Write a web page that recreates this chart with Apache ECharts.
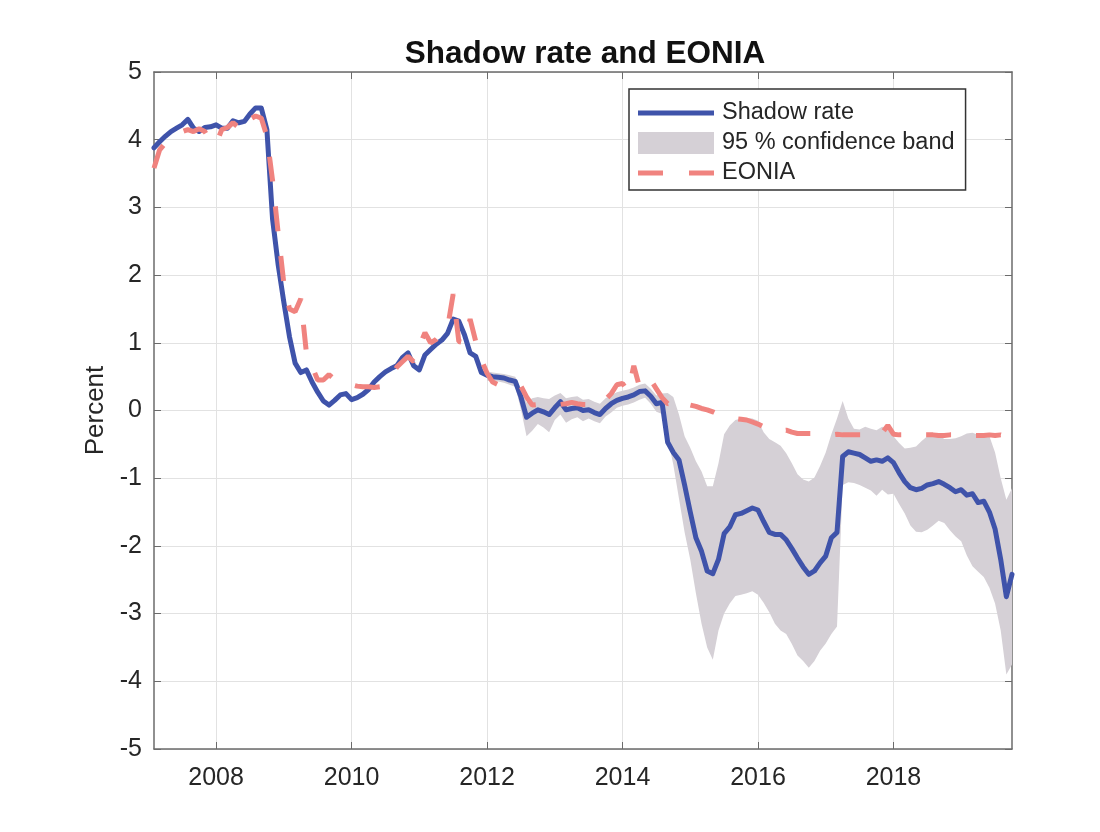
<!DOCTYPE html>
<html>
<head>
<meta charset="utf-8">
<title>Shadow rate and EONIA</title>
<script src="https://cdn.jsdelivr.net/npm/echarts@6.0.0/dist/echarts.min.js"></script>
<style>
  html, body { margin: 0; padding: 0; background: #ffffff; }
  #chart { width: 1100px; height: 832px; }
</style>
</head>
<body>
<div id="chart"></div>
<script>
// monthly data, Feb 2007 .. Oct 2019
const startYear = 2007;
const startMonth = 2;

const shadowRate = [
  3.88, 3.97, 4.05, 4.12, 4.17, 4.22, 4.30, 4.17, 4.12, 4.18, 4.19,              // 2007
  4.22, 4.17, 4.17, 4.28, 4.25, 4.27, 4.38, 4.47, 4.47, 4.15, 2.83, 2.15,        // 2008
  1.60, 1.09, 0.70, 0.56, 0.60, 0.42, 0.27, 0.14, 0.08, 0.15, 0.23, 0.25,        // 2009
  0.16, 0.19, 0.24, 0.31, 0.42, 0.50, 0.57, 0.62, 0.66, 0.78, 0.85, 0.66,        // 2010
  0.60, 0.82, 0.90, 0.98, 1.04, 1.14, 1.35, 1.32, 1.12, 0.85, 0.80, 0.56,        // 2011
  0.52, 0.50, 0.49, 0.48, 0.45, 0.43, 0.20, -0.10, -0.04, 0.01, -0.02, -0.06,    // 2012
  0.04, 0.13, 0.01, 0.03, 0.04, 0.00, 0.01, -0.03, -0.06, 0.03, 0.10, 0.15,      // 2013
  0.18, 0.20, 0.23, 0.28, 0.29, 0.21, 0.10, 0.12, -0.47, -0.62, -0.73, -1.10,    // 2014
  -1.50, -1.88, -2.08, -2.37, -2.41, -2.20, -1.82, -1.72, -1.54, -1.52, -1.48, -1.44, // 2015
  -1.47, -1.64, -1.80, -1.83, -1.83, -1.91, -2.04, -2.18, -2.31, -2.42, -2.37, -2.25, // 2016
  -2.15, -1.88, -1.80, -0.68, -0.61, -0.63, -0.65, -0.70, -0.75, -0.73, -0.75, -0.70, // 2017
  -0.77, -0.92, -1.05, -1.14, -1.17, -1.15, -1.10, -1.08, -1.05, -1.09, -1.14, -1.20, // 2018
  -1.17, -1.25, -1.23, -1.36, -1.34, -1.50, -1.75, -2.20, -2.75, -2.42              // 2019
];

const eonia = [
  3.58, 3.85, 3.95, 4.02, 4.08, 4.12, 4.15, 4.12, 4.16, 4.12, 3.98,              // 2007
  3.93, 4.15, 4.18, 4.25, 4.18, 4.12, 4.30, 4.35, 4.32, 4.05, 3.40, 2.62,        // 2008
  1.88, 1.50, 1.46, 1.65, 0.85, 0.65, 0.45, 0.45, 0.53, 0.46, 0.42, 0.41,        // 2009
  0.38, 0.36, 0.35, 0.35, 0.34, 0.35, 0.40, 0.50, 0.64, 0.72, 0.80, 0.72,        // 2010
  0.95, 1.15, 1.00, 1.05, 1.15, 1.22, 1.72, 1.02, 1.00, 1.35, 1.02, 0.75,        // 2011
  0.55, 0.42, 0.38, 0.36, 0.35, 0.37, 0.36, 0.20, 0.08, 0.09, 0.08, 0.08,        // 2012
  0.08, 0.09, 0.10, 0.12, 0.10, 0.09, 0.09, 0.08, 0.09, 0.16, 0.25, 0.38,        // 2013
  0.40, 0.28, 0.66, 0.35, 0.33, 0.45, 0.32, 0.19, 0.10, 0.12, 0.17, 0.12,        // 2014
  0.08, 0.06, 0.03, 0.01, -0.02, -0.06, -0.09, -0.11, -0.12, -0.13, -0.14, -0.17, // 2015
  -0.20, -0.24, -0.27, -0.31, -0.30, -0.29, -0.32, -0.34, -0.34, -0.34, -0.34, -0.34, // 2016
  -0.35, -0.36, -0.35, -0.36, -0.36, -0.36, -0.36, -0.36, -0.36, -0.36, -0.33, -0.22, // 2017
  -0.35, -0.36, -0.36, -0.37, -0.36, -0.36, -0.36, -0.36, -0.37, -0.37, -0.36, -0.36, // 2018
  -0.37, -0.37, -0.37, -0.37, -0.37, -0.36, -0.37, -0.36, -0.38, -0.37              // 2019
];

// 95 % band, Jan 2012 .. Oct 2019
const bandStartYear = 2012;
const bandLower = [
  0.44, 0.43, 0.43, 0.41, 0.38, 0.35, 0.02, -0.38, -0.30, -0.20, -0.25, -0.32,   // 2012
  -0.14, -0.06, -0.18, -0.13, -0.10, -0.16, -0.12, -0.16, -0.19, -0.09, -0.03, 0.04, // 2013
  0.07, 0.09, 0.12, 0.16, 0.19, 0.10, -0.02, -0.05, -0.40, -0.80, -1.30, -1.80,  // 2014
  -2.20, -2.70, -3.15, -3.50, -3.68, -3.25, -3.00, -2.85, -2.74, -2.72, -2.70, -2.67, // 2015
  -2.72, -2.84, -2.98, -3.15, -3.25, -3.30, -3.45, -3.62, -3.70, -3.80, -3.70, -3.55, // 2016
  -3.44, -3.30, -3.19, -1.10, -1.06, -1.07, -1.10, -1.14, -1.18, -1.26, -1.17, -1.24, // 2017
  -1.23, -1.38, -1.52, -1.70, -1.79, -1.80, -1.76, -1.70, -1.63, -1.66, -1.77, -1.86, // 2018
  -1.93, -2.14, -2.30, -2.38, -2.46, -2.62, -2.85, -3.25, -3.90, -3.75           // 2019
];
const bandUpper = [
  0.58, 0.56, 0.55, 0.54, 0.52, 0.50, 0.32, 0.12, 0.18, 0.20, 0.18, 0.17,       // 2012
  0.22, 0.26, 0.18, 0.20, 0.21, 0.16, 0.17, 0.13, 0.10, 0.18, 0.23, 0.27,       // 2013
  0.29, 0.31, 0.34, 0.38, 0.40, 0.32, 0.22, 0.25, 0.26, 0.20, -0.06, -0.38,     // 2014
  -0.55, -0.75, -0.90, -1.12, -1.12, -0.78, -0.35, -0.22, -0.14, -0.12, -0.11, -0.12, // 2015
  -0.15, -0.32, -0.42, -0.47, -0.52, -0.63, -0.78, -0.94, -1.02, -1.05, -0.99, -0.82, // 2016
  -0.62, -0.35, -0.12, 0.14, -0.12, -0.27, -0.28, -0.24, -0.27, -0.29, -0.24, -0.28,  // 2017
  -0.38, -0.48, -0.56, -0.55, -0.53, -0.45, -0.38, -0.36, -0.36, -0.42, -0.42, -0.41, // 2018
  -0.38, -0.34, -0.33, -0.36, -0.38, -0.38, -0.62, -1.00, -1.32, -1.15          // 2019
];

const yearTicks = [2008, 2010, 2012, 2014, 2016, 2018];

const months = shadowRate.map((v, i) => startYear + (startMonth - 1 + i) / 12);
const bandMonths = bandLower.map((v, i) => bandStartYear + i / 12);

const font = "'Liberation Sans', Arial, Helvetica, sans-serif";
const textColor = '#262626';
const boxColor = '#6b6b6b';
const bandColor = '#d5d0d6';

// band drawn as one polygon: upper edge left to right, lower edge back
function renderBand(params, api) {
  if (params.dataIndex !== 0) return null;
  const pts = [];
  bandMonths.forEach((x, i) => pts.push(api.coord([x, bandUpper[i]])));
  for (let i = bandMonths.length - 1; i >= 0; i--) {
    pts.push(api.coord([bandMonths[i], bandLower[i]]));
  }
  return {
    type: 'polygon',
    shape: { points: pts },
    style: { fill: bandColor }
  };
}

const chart = echarts.init(document.getElementById('chart'));

const option = {
  backgroundColor: '#ffffff',
  animation: false,
  title: {
    text: 'Shadow rate and EONIA',
    left: 580,
    top: 33,
    textAlign: 'center',
    textStyle: { fontFamily: font, fontSize: 31.5, fontWeight: 'bold', color: '#111' }
  },
  legend: {
    orient: 'vertical',
    left: 629,
    top: 89,
    padding: [12, 11, 5, 9],
    itemWidth: 76,
    itemHeight: 22,
    itemGap: 6,
    selectedMode: false,
    backgroundColor: '#ffffff',
    borderColor: '#333333',
    borderWidth: 1.5,
    borderRadius: 0,
    textStyle: { fontFamily: font, fontSize: 23.5, color: textColor, padding: [0, 0, 0, 3] },
    data: [
      { name: 'Shadow rate', icon: 'path://M0,0H76V5H0Z' },
      { name: '95 % confidence band', icon: 'rect', itemStyle: { color: bandColor } },
      { name: 'EONIA', icon: 'path://M0,0H25V5H0ZM51,0H76V5H51Z' }
    ]
  },
  grid: {
    left: 154, right: 88, top: 72, bottom: 83,
    outerBoundsMode: 'none'
  },
  xAxis: [
    {
      type: 'value',
      min: 2007 + 1 / 12,
      max: 2019.75,
      axisLine: { show: true, onZero: false, lineStyle: { color: boxColor, width: 1.5 } },
      axisTick: { show: true, inside: true, length: 7, customValues: yearTicks, lineStyle: { color: boxColor } },
      axisLabel: {
        customValues: yearTicks,
        margin: 17,
        fontFamily: font, fontSize: 25, color: textColor,
        formatter: v => String(Math.round(v))
      },
      splitLine: { show: true, lineStyle: { color: '#e2e2e2', width: 1 } }
    },
    {
      type: 'value',
      position: 'top',
      min: 2007 + 1 / 12,
      max: 2019.75,
      axisLine: { show: true, onZero: false, lineStyle: { color: boxColor, width: 1.5 } },
      axisTick: { show: true, inside: true, length: 7, customValues: yearTicks, lineStyle: { color: boxColor } },
      axisLabel: { show: false },
      splitLine: { show: false }
    }
  ],
  yAxis: [
    {
      type: 'value',
      min: -5,
      max: 5,
      interval: 1,
      name: 'Percent',
      nameLocation: 'middle',
      nameGap: 44,
      nameTextStyle: { fontFamily: font, fontSize: 26, color: textColor },
      axisLine: { show: true, onZero: false, lineStyle: { color: boxColor, width: 1.5 } },
      axisTick: { show: true, inside: true, length: 7, lineStyle: { color: boxColor } },
      axisLabel: { margin: 12, fontFamily: font, fontSize: 25, color: textColor },
      splitLine: { show: true, lineStyle: { color: '#e2e2e2', width: 1 } }
    },
    {
      type: 'value',
      position: 'right',
      min: -5,
      max: 5,
      interval: 1,
      axisLine: { show: true, onZero: false, lineStyle: { color: boxColor, width: 1.5 } },
      axisTick: { show: true, inside: true, length: 7, lineStyle: { color: boxColor } },
      axisLabel: { show: false },
      splitLine: { show: false }
    }
  ],
  series: [
    {
      name: '95 % confidence band',
      type: 'custom',
      silent: true,
      clip: true,
      itemStyle: { color: bandColor },
      renderItem: renderBand,
      data: bandMonths.map((x, i) => [x, bandLower[i], bandUpper[i]]),
      encode: { x: 0, y: [1, 2] },
      z: 2
    },
    {
      name: 'Shadow rate',
      type: 'line',
      symbol: 'none',
      color: '#3f53aa',
      lineStyle: { color: '#3f53aa', width: 5, join: 'round', cap: 'round' },
      data: months.map((x, i) => [x, shadowRate[i]]),
      z: 3
    },
    {
      name: 'EONIA',
      type: 'line',
      symbol: 'none',
      color: '#f0837f',
      lineStyle: { color: '#f0837f', width: 5, type: [25, 25], cap: 'butt' },
      data: months.map((x, i) => [x, eonia[i]]),
      z: 4
    }
  ]
};

chart.setOption(option);

window.addEventListener('resize', () => {
  chart.resize();
});
</script>
</body>
</html>
